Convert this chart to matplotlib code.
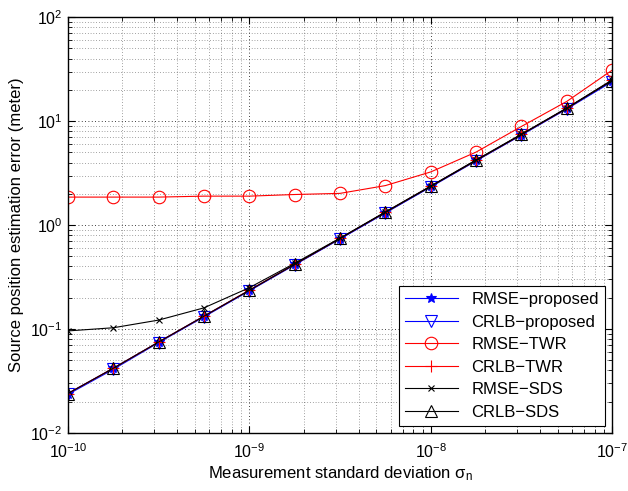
import numpy as np
import matplotlib
matplotlib.use("Agg")
import matplotlib.pyplot as plt
from matplotlib.ticker import LogLocator, NullFormatter

plt.rcParams['font.family'] = ['Liberation Sans', 'DejaVu Sans']
plt.rcParams['mathtext.fontset'] = 'custom'
plt.rcParams['mathtext.rm'] = 'Liberation Sans'
plt.rcParams['mathtext.it'] = 'Liberation Sans:italic'

sigma = [1e-10, 1.78e-10, 3.16e-10, 5.62e-10, 1e-9, 1.78e-9, 3.16e-9,
         5.62e-9, 1e-8, 1.78e-8, 3.16e-8, 5.62e-8, 1e-7]

rmse_proposed = [0.024, 0.042, 0.075, 0.133, 0.236, 0.42, 0.74, 1.32, 2.36, 4.2, 7.4, 13.3, 24.5]
crlb_proposed = [0.0235, 0.041, 0.074, 0.131, 0.233, 0.415, 0.735, 1.31, 2.33, 4.15, 7.35, 13.1, 24.0]
rmse_twr = [1.86, 1.86, 1.86, 1.90, 1.90, 1.97, 2.02, 2.4, 3.25, 5.05, 8.9, 15.5, 31.0]
crlb_twr = [0.024, 0.042, 0.075, 0.133, 0.237, 0.42, 0.745, 1.33, 2.37, 4.2, 7.45, 13.3, 24.8]
rmse_sds = [0.096, 0.103, 0.122, 0.16, 0.25, 0.43, 0.75, 1.34, 2.38, 4.25, 7.5, 13.4, 25.0]
crlb_sds = [0.024, 0.042, 0.075, 0.133, 0.236, 0.42, 0.745, 1.33, 2.36, 4.2, 7.45, 13.3, 24.6]

fig = plt.figure(figsize=(6.28, 4.91), dpi=100)
ax = fig.add_axes([0.108, 0.118, 0.867, 0.847])

ax.loglog(sigma, rmse_proposed, color='#0000ff', marker='*', ms=7, mew=0.8, lw=0.8, label='RMSE\u2212proposed')
ax.loglog(sigma, crlb_proposed, color='#0000ff', marker='v', ms=8, mfc='none', mew=0.8, lw=0.8, label='CRLB\u2212proposed')
ax.loglog(sigma, rmse_twr, color='#ff0000', marker='o', ms=9, mfc='none', mew=0.8, lw=0.8, label='RMSE\u2212TWR')
ax.loglog(sigma, crlb_twr, color='#ff0000', marker='+', ms=9, mew=0.8, lw=0.8, label='CRLB\u2212TWR')
ax.loglog(sigma, rmse_sds, color='black', marker='x', ms=4, mew=0.8, lw=0.8, label='RMSE\u2212SDS')
ax.loglog(sigma, crlb_sds, color='black', marker='^', ms=8, mfc='none', mew=0.8, lw=0.8, label='CRLB\u2212SDS')

ax.set_xlim(1e-10, 1e-7)
ax.set_ylim(1e-2, 1e2)

ax.xaxis.set_major_locator(LogLocator(base=10, numticks=10))
ax.yaxis.set_major_locator(LogLocator(base=10, numticks=10))
ax.xaxis.set_minor_locator(LogLocator(base=10, subs=np.arange(2, 10), numticks=20))
ax.yaxis.set_minor_locator(LogLocator(base=10, subs=np.arange(2, 10), numticks=20))
ax.xaxis.set_minor_formatter(NullFormatter())
ax.yaxis.set_minor_formatter(NullFormatter())

ax.grid(True, which='major', linestyle=(0, (1, 3)), color='black', lw=0.6)
ax.grid(True, which='minor', linestyle=(0, (1, 3)), color='black', lw=0.5, alpha=0.7)

ax.tick_params(which='both', direction='in', top=True, right=True, labelsize=11.5)
ax.tick_params(axis='x', which='major', pad=7)
ax.tick_params(axis='y', which='major', pad=4)
ax.tick_params(which='major', length=5, width=0.8)
ax.tick_params(which='minor', length=3, width=0.6)
for s in ax.spines.values():
    s.set_linewidth(1.0)

ax.set_xlabel('Measurement standard deviation $\\mathrm{\\sigma_n}$', fontsize=12, labelpad=2)
ax.set_ylabel('Source position estimation error (meter)', fontsize=12)

leg = ax.legend(loc='lower right', fontsize=12, fancybox=False, edgecolor='black',
                framealpha=1, borderaxespad=0.45, handlelength=3.2, labelspacing=0.45,
                borderpad=0.35)
leg.get_frame().set_linewidth(0.8)

fig.savefig('out.png', dpi=100)
